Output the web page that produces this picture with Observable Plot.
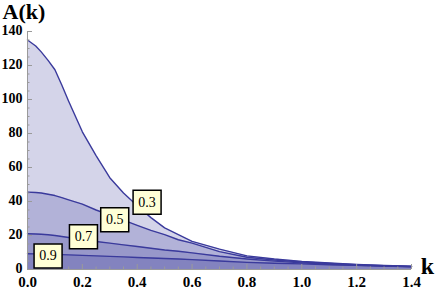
<!DOCTYPE html>
<html>
<head>
<meta charset="utf-8">
<script src="https://cdn.jsdelivr.net/npm/d3@7"></script>
<script src="https://cdn.jsdelivr.net/npm/@observablehq/plot@0.6"></script>
<style>
  html, body { margin: 0; padding: 0; background: #fff; }
  svg { display: block; }
</style>
</head>
<body>
<div id="chart"></div>
<script>
// ---- data ----
const ks   = [0, 0.03, 0.05, 0.075, 0.1, 0.125, 0.15, 0.2, 0.25, 0.3, 0.35, 0.4, 0.45, 0.5, 0.55, 0.6, 0.7, 0.8, 0.9, 1.0, 1.1, 1.2, 1.3, 1.4];
const a03  = [135, 131.5, 128, 123, 117.5, 108.5, 99, 81, 67, 54, 45, 37.5, 30.5, 24.5, 20.5, 16.5, 12, 8, 6.2, 4.8, 3.8, 3, 2.4, 2];
const a05  = [45.5, 45.3, 45, 44.3, 43.5, 42.3, 41, 38.5, 35, 32, 29, 26, 23, 20.5, 17.5, 15.5, 10.5, 7.2, 5.6, 4.4, 3.5, 2.8, 2.2, 1.8];
const a07  = [21, 20.9, 20.7, 20.4, 20, 19.4, 18.8, 17.5, 16.5, 15.5, 14.5, 13.5, 12.5, 11.5, 10.7, 9.8, 7.8, 6.2, 4.9, 3.9, 3.1, 2.5, 2.0, 1.7];
const a09  = [9.3, 9.2, 9.1, 9.0, 8.9, 8.75, 8.6, 8.3, 8, 7.7, 7.4, 7.1, 6.8, 6.5, 6.2, 5.8, 5, 4.2, 3.7, 3.3, 2.8, 2.4, 2.0, 1.6];
const seriesNames = ["0.3", "0.5", "0.7", "0.9"];
const seriesValues = [a03, a05, a07, a09];

const labelText = ["0.3", "0.5", "0.7", "0.9"];
const labelK    = [0.436, 0.318, 0.204, 0.075];
const labelA    = [39.6, 29.3, 19.2, 8];

const xMajor = [0, 0.2, 0.4, 0.6, 0.8, 1.0, 1.2, 1.4];
const yMajor = [0, 20, 40, 60, 80, 100, 120, 140];
const xMinor = d3.range(0, 1.4001, 0.05).map(v => +v.toFixed(2)).filter(v => !xMajor.some(m => Math.abs(m - v) < 1e-9));
const yMinor = d3.range(0, 141, 5).filter(v => v % 20 !== 0);

// tidy table
const rows = [];
seriesNames.forEach((s, i) => ks.forEach((k, j) => rows.push({series: s, k, A: seriesValues[i][j]})));
const labels = labelText.map((t, i) => ({t, k: labelK[i], A: labelA[i]}));

const lineColor = "#3a3a9c";
const axisColor = "#9a9a9a";
const serif = "'Liberation Serif', 'Times New Roman', serif";

const boxSymbol = {
  draw(ctx, size) { ctx.rect(-14, -12, 28, 24); }
};

const chart = Plot.plot({
  width: 436,
  height: 290,
  marginLeft: 27,
  marginRight: 25,
  marginTop: 31,
  marginBottom: 21,
  style: {fontFamily: serif, background: "#fff"},
  x: {domain: [0, 1.4]},
  y: {domain: [0, 140]},
  marks: [
    Plot.areaY(rows, {x: "k", y1: 0, y2: "A", z: "series", fill: lineColor, fillOpacity: 0.22}),
    Plot.line(rows, {x: "k", y: "A", z: "series", stroke: lineColor, strokeWidth: 1.4}),
    // axis lines
    Plot.ruleY([0], {stroke: axisColor}),
    Plot.ruleX([0], {stroke: axisColor}),
    // minor ticks (pointing inward)
    Plot.axisX({ticks: xMinor, tickSize: -2.5, text: null, stroke: axisColor, label: null}),
    Plot.axisY({ticks: yMinor, tickSize: -2.5, text: null, stroke: axisColor, label: null}),
    // major ticks
    Plot.axisX({ticks: xMajor, tickSize: -5, text: null, stroke: axisColor, label: null}),
    Plot.axisY({ticks: yMajor, tickSize: -5, text: null, stroke: axisColor, label: null}),
    // tick labels
    Plot.axisX({ticks: xMajor, tickSize: 0, tickPadding: 7, tickFormat: d3.format(".1f"), label: null,
      fontSize: 15, fontWeight: "bold", fontFamily: serif, fill: "black"}),
    Plot.axisY({ticks: yMajor, tickSize: 0, tickPadding: 5, dy: -1, tickFormat: d3.format("d"), label: null,
      fontSize: 14, fontWeight: "bold", fontFamily: serif, fill: "black"}),
    // axis titles
    Plot.text(["A(k)"], {frameAnchor: "top-left", dx: -25, dy: -28, textAnchor: "start", lineAnchor: "top",
      fontSize: 22, fontWeight: "bold", fontFamily: serif, fill: "black"}),
    Plot.text(["k"], {frameAnchor: "bottom-right", dx: 16, dy: 4, textAnchor: "middle", lineAnchor: "bottom",
      fontSize: 24, fontWeight: "bold", fontFamily: serif, fill: "black"}),
    // contour labels
    Plot.dot(labels, {x: "k", y: "A", symbol: boxSymbol, r: 10, fill: "#ffffd6", stroke: "black", strokeWidth: 1.5}),
    Plot.text(labels, {x: "k", y: "A", text: "t", fontSize: 14, fontFamily: serif, fill: "black"})
  ]
});
document.getElementById("chart").appendChild(chart);
</script>
</body>
</html>
